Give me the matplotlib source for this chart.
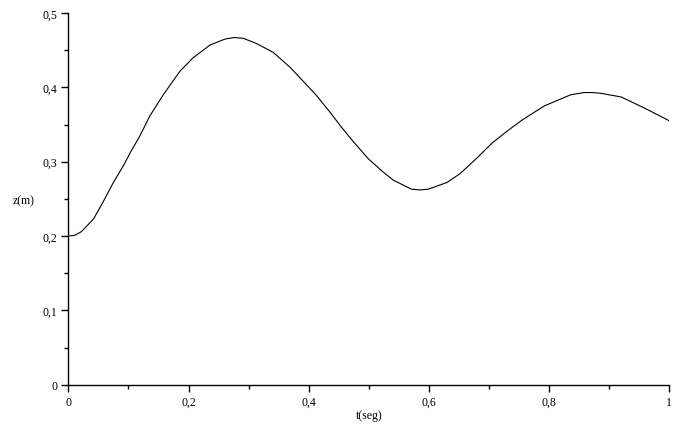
import matplotlib
matplotlib.use("Agg")
import matplotlib.pyplot as plt
from matplotlib.ticker import FixedLocator

# values
t = [0.0, 0.011, 0.022, 0.042, 0.058, 0.075, 0.092, 0.105, 0.118, 0.136,
     0.158, 0.186, 0.208, 0.236, 0.261, 0.276, 0.291, 0.313, 0.341, 0.369,
     0.397, 0.413, 0.436, 0.453, 0.470, 0.499, 0.524, 0.541, 0.571, 0.585,
     0.599, 0.630, 0.652, 0.680, 0.705, 0.730, 0.755, 0.792, 0.836, 0.858,
     0.872, 0.886, 0.920, 0.959, 1.0]
z = [0.200, 0.201, 0.206, 0.223, 0.246, 0.272, 0.295, 0.315, 0.333, 0.362,
     0.390, 0.422, 0.440, 0.457, 0.465, 0.467, 0.466, 0.459, 0.447, 0.427,
     0.403, 0.389, 0.366, 0.348, 0.331, 0.304, 0.286, 0.275, 0.263, 0.262,
     0.263, 0.272, 0.284, 0.305, 0.325, 0.341, 0.356, 0.375, 0.390, 0.393,
     0.393, 0.392, 0.387, 0.372, 0.355]

x_ticks = [0, 0.2, 0.4, 0.6, 0.8, 1]
x_labels = ["0", "0,2", "0,4", "0,6", "0,8", "1"]
y_ticks = [0, 0.1, 0.2, 0.3, 0.4, 0.5]
y_labels = ["0", "0,1", "0,2", "0,3", "0,4", "0,5"]

W, H = 678, 431
fig = plt.figure(figsize=(W / 100, H / 100), dpi=100)
ax = fig.add_axes([68.3 / W, (H - 385.7) / H, (669.3 - 68.3) / W, (385.7 - 14) / H])

ax.plot(t, z, color="black", linewidth=0.8)
ax.set_xlim(0, 1)
ax.set_ylim(0, 0.5)

for side in ["top", "right"]:
    ax.spines[side].set_visible(False)
for side in ["left", "bottom"]:
    ax.spines[side].set_linewidth(1.0)

font = dict(family="Liberation Serif", size=8.5)
ax.set_xticks(x_ticks)
ax.set_xticklabels(x_labels, **font)
ax.set_yticks(y_ticks)
ax.set_yticklabels(y_labels, **font)
ax.xaxis.set_minor_locator(FixedLocator([0.1, 0.3, 0.5, 0.7, 0.9]))
ax.yaxis.set_minor_locator(FixedLocator([0.05, 0.15, 0.25, 0.35, 0.45]))
ax.tick_params(which="major", length=5, width=1, pad=3, color="black")
ax.tick_params(which="minor", length=3, width=1, color="black")

ax.set_xlabel("t(seg)", labelpad=1, **font)
ax.set_ylabel("z(m)", rotation=0, va="center", **font)
ax.yaxis.set_label_coords(-0.075, 0.495)

fig.savefig("out.png", dpi=100)
